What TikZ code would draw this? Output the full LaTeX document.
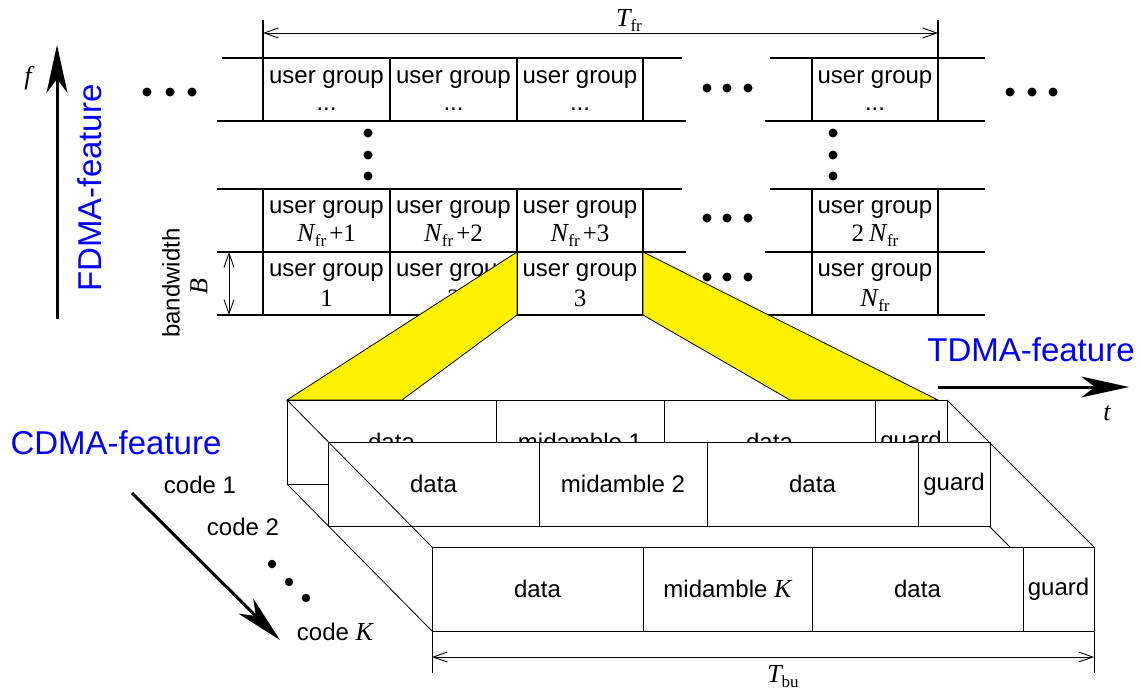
\documentclass[tikz,border=0pt]{standalone}
\usepackage{fontspec}
\setmainfont{Liberation Sans}
\newfontfamily\tmfont{Liberation Serif}
\usetikzlibrary{arrows.meta}
\newcommand\fsz[1]{\fontsize{#1}{#1}\selectfont}
\newcommand\myit[1]{{\tmfont\itshape\fsz{26}#1}}
\newcommand\tmr[1]{{\tmfont\fsz{25}#1}}
\newcommand\ssub[1]{\raisebox{-5pt}{\tmfont\fsz{17}#1}}
\newcommand\Nfr{\myit{N}\kern0.5pt\ssub{fr}}
\begin{document}
\begin{tikzpicture}[x=1pt,y=-1pt,
  gl/.style={line width=1.1pt},
  ug/.style={font=\fsz{24}, inner sep=0pt, anchor=base},
  cellbox/.style={draw, fill=white, line width=1pt, minimum height=84pt, inner sep=0pt, outer sep=0pt, anchor=north west, font=\fsz{24}},
  dot/.style={circle, fill=black, inner sep=0pt, minimum size=9pt},
  bigarrow/.style={line width=3pt, -{Stealth[length=48pt,width=21pt,inset=14pt]}},
  dimarrow/.style={line width=0.9pt, {Straight Barb[length=14pt,width=10pt]}-{Straight Barb[length=14pt,width=10pt]}},
  feat/.style={font=\fsz{33}, text=blue, inner sep=0pt},
  lbl/.style={font=\fsz{24}, inner sep=0pt},
]
\useasboundingbox (0,0) rectangle (1141,694);

% ---------- top grid ----------
\draw[gl] (222,58) -- (682,58) (770,58) -- (985,58);
\draw[gl] (217,121) -- (686,121) (765,121) -- (985,121);
\draw[gl] (217,189) -- (682,189) (770,189) -- (985,189);
\draw[gl] (217,252) -- (686,252) (765,252) -- (985,252);
\draw[gl] (217,315) -- (686,315) (765,315) -- (985,315);
\draw[gl] (263,20) -- (263,121) (263,189) -- (263,315);
\draw[gl] (938,20) -- (938,121) (938,189) -- (938,315);
\foreach \x in {390,517,643,812}
  \draw[gl] (\x,58) -- (\x,121) (\x,189) -- (\x,315);

\coordinate (tfrL) at (263,33);
\coordinate (tfrR) at (938,33);
\draw[dimarrow] (tfrL) -- (tfrR);
\node[inner sep=0pt] (tfr) at (629,20) {\myit{T}\ssub{fr}};

% cell texts
\foreach \x/\n in {326.5/a,453.5/b,580/c,875/d} {
  \node[ug] (top\n1) at (\x,83) {user group};
  \node[ug] (top\n2) at (\x,110) {...};
  \node[ug] (mid\n1) at (\x,213) {user group};
  \node[ug] (bot\n1) at (\x,276) {user group};
}
\node[ug] (mida2) at (326.5,241) {\Nfr\kern3pt\tmr{+1}};
\node[ug] (midb2) at (453.5,241) {\Nfr\kern3pt\tmr{+2}};
\node[ug] (midc2) at (580,241) {\Nfr\kern3pt\tmr{+3}};
\node[ug] (midd2) at (875,241) {\tmr{2}\kern5pt\Nfr};
\node[ug] (bota2) at (326.5,306) {\tmr{1}};
\node[ug] (botb2) at (453.5,306) {\tmr{2}};
\node[ug] (botc2) at (580,306) {\tmr{3}};
\node[ug] (botd2) at (875,306) {\Nfr};

% bandwidth
\draw[dimarrow] (229,252) -- (229,315);
\node[rotate=90, font=\fsz{24}, inner sep=0pt] (bw) at (171,283) {bandwidth};
\node[rotate=90, inner sep=0pt] (bB) at (199,287) {\myit{B}};

% yellow projections
\draw[fill=yellow, line width=0.8pt] (517,252) -- (517,315) -- (402,400) -- (287,400) -- cycle;
\draw[fill=yellow, line width=0.8pt] (643,252) -- (643,315) -- (790,400) -- (938,400) -- cycle;

% dots
\foreach \x [count=\i] in {147,170,192} \node[dot] (dl\i) at (\x,92) {};
\foreach \x [count=\i] in {707,727,748} {
  \node[dot] (dm\i) at (\x,88) {};
  \node[dot] (dn\i) at (\x,218) {};
  \node[dot] (db\i) at (\x,277) {};
}
\foreach \x [count=\i] in {1010,1032,1053} \node[dot] (dr\i) at (\x,92) {};
\foreach \y [count=\i] in {133,155,176} {
  \node[dot] (vl\i) at (368,\y) {};
  \node[dot] (vr\i) at (833,\y) {};
}
\node[dot, minimum size=8.5pt] (dc1) at (272,564) {};
\node[dot, minimum size=8.5pt] (dc2) at (289,582) {};
\node[dot, minimum size=8.5pt] (dc3) at (306,598) {};

% ---------- code 1 burst ----------
\node[cellbox, minimum width=209pt] (a1) at (287,400) {data};
\node[cellbox, minimum width=168pt] (a2) at (496,400) {midamble 1};
\node[cellbox, minimum width=211pt] (a3) at (664,400) {data};
\node[cellbox, minimum width=72pt]  (a4) at (875,400) {guard};

% ---------- code K burst (positions for diagonals) ----------
\path (432,547) coordinate (cNW) (1094,547) coordinate (cNE)
      (432,631) coordinate (cSW) (1094,631) coordinate (cSE);

\draw[line width=0.8pt] (a4.south east) -- (cSE);

% ---------- code 2 burst ----------
\node[cellbox, minimum width=211pt] (b1) at (328,442) {data};
\node[cellbox, minimum width=168pt] (b2) at (539,442) {midamble 2};
\node[cellbox, minimum width=211pt] (b3) at (707,442) {data};
\node[cellbox, minimum width=72pt]  (b4) at (918,442) {guard};

\draw[line width=0.8pt] (a1.north west) -- (cNW);
\draw[line width=0.8pt] (a1.south west) -- (cSW);
\draw[line width=0.8pt] (a4.north east) -- (cNE);

% ---------- code K burst ----------
\node[cellbox, minimum width=211pt] (k1) at (cNW) {data};
\node[cellbox, minimum width=169pt] (k2) at (643,547) {midamble \myit{K}};
\node[cellbox, minimum width=211pt] (k3) at (812,547) {data};
\node[cellbox, minimum width=71pt]  (k4) at (1023,547) {guard};

\draw[line width=0.9pt] (k1.south west) -- ++(0,42);
\draw[line width=0.9pt] (k4.south east) -- ++(0,42);
\coordinate (tbuL) at (432,657);
\coordinate (tbuR) at (1094,657);
\draw[dimarrow] (tbuL) -- (tbuR);
\node[inner sep=0pt] (tbu) at (783,677) {\myit{T}\ssub{bu}};

% ---------- axes and features ----------
\coordinate (fS) at (57,319);
\coordinate (fE) at (57,45);
\draw[bigarrow] (fS) -- (fE);
\node[inner sep=0pt] (flab) at (28,78) {\myit{f}};
\node[feat, rotate=90] (fdma) at (90,188) {FDMA-feature};

\coordinate (tS) at (938,387);
\coordinate (tE) at (1129,387);
\draw[bigarrow] (tS) -- (tE);
\node[inner sep=0pt] (tlab) at (1107,413) {\myit{t}};
\node[feat] (tdma) at (1031,350) {TDMA-feature};

\node[feat] (cdma) at (116,443) {CDMA-feature};
\coordinate (cS) at (132,493);
\coordinate (cE) at (280,640);
\draw[bigarrow] (cS) -- (cE);
\node[lbl] (code1) at (200,485) {code 1};
\node[lbl] (code2) at (243,527) {code 2};
\node[lbl] (codeK) at (335,632) {code \myit{K}};
\end{tikzpicture}
\end{document}
